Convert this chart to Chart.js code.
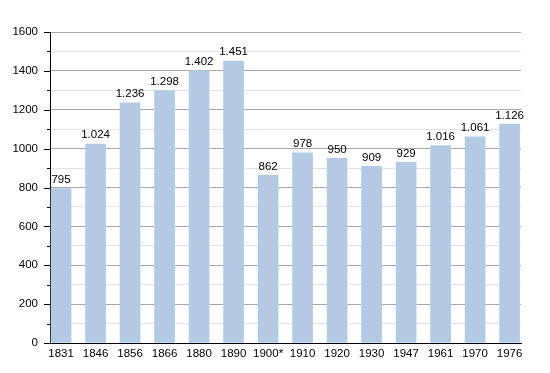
<!DOCTYPE html>
<html>
<head>
<meta charset="utf-8">
<script src="https://cdn.jsdelivr.net/npm/chart.js@4/dist/chart.umd.min.js"></script>
<style>
  html, body { margin: 0; padding: 0; background: #fff; }
  #wrap { width: 550px; height: 373px; }
</style>
</head>
<body>
<div id="wrap"><canvas id="chart"></canvas></div>
<script>
// années et population
const years = ['1831', '1846', '1856', '1866', '1880', '1890', '1900*', '1910', '1920', '1930', '1947', '1961', '1970', '1976'];
const population = [795, 1024, 1236, 1298, 1402, 1451, 862, 978, 950, 909, 929, 1016, 1061, 1126];
const yTicks = [0, 200, 400, 600, 800, 1000, 1200, 1400, 1600];

const FONT = 'Liberation Sans, Arial, Helvetica, sans-serif';

function fmt(v) {
    if (v < 1000) return String(v);
    return Math.floor(v / 1000) + '.' + String(v % 1000).padStart(3, '0');
}

// petits traits sur l'axe Y + valeurs au-dessus des barres
const extras = {
    id: 'extras',
    afterDraw(chart) {
        const ctx = chart.ctx;
        const y = chart.scales.y;
        const left = chart.chartArea.left;
        ctx.save();
        ctx.strokeStyle = '#000';
        ctx.lineWidth = 1;
        for (let v = 0; v <= 1600; v += 100) {
            const py = Math.round(y.getPixelForValue(v)) + 0.5;
            const len = yTicks.includes(v) ? 6 : 3;
            ctx.beginPath();
            ctx.moveTo(left - len, py);
            ctx.lineTo(left, py);
            ctx.stroke();
        }
        ctx.fillStyle = '#000';
        ctx.font = '11.5px ' + FONT;
        ctx.textAlign = 'center';
        ctx.textBaseline = 'bottom';
        const meta = chart.getDatasetMeta(0);
        meta.data.forEach((bar, i) => {
            ctx.fillText(fmt(population[i]), bar.x, bar.y - 3);
        });
        ctx.restore();
    }
};

const ctx = document.getElementById('chart').getContext('2d');
new Chart(ctx, {
    type: 'bar',
    data: {
        datasets: [{
            data: population.map((v, i) => ({ x: i, y: v })),
            backgroundColor: '#b2cae4',
            borderWidth: 0,
            barThickness: 20
        }]
    },
    options: {
        responsive: true,
        maintainAspectRatio: false,
        animation: false,
        layout: { padding: { left: 0, top: 32, right: 29, bottom: 0 } },
        plugins: { legend: { display: false }, tooltip: { enabled: false } },
        scales: {
            x: {
                type: 'linear',
                offset: false,
                min: -0.32,
                max: 13.33,
                afterFit: (s) => { s.height = 30; },
                afterBuildTicks: (s) => { s.ticks = years.map((_, i) => ({ value: i })); },
                grid: { display: false, drawTicks: false, offset: false },
                border: { display: true, color: '#000', width: 1 },
                ticks: {
                    autoSkip: false,
                    maxRotation: 0,
                    padding: 4,
                    color: '#000',
                    font: { family: FONT, size: 11.5 },
                    callback: (v) => years[v] ?? ''
                }
            },
            y: {
                min: 0,
                max: 1600,
                afterFit: (s) => { s.width = 50; },
                afterBuildTicks: (s) => {
                    const t = [];
                    for (let v = 0; v <= 1600; v += 100) t.push({ value: v });
                    s.ticks = t;
                },
                grid: {
                    drawTicks: false,
                    color: (c) => (c.tick && yTicks.includes(c.tick.value)) ? '#a8a8a8' : '#e2e2e2'
                },
                border: { display: true, color: '#000', width: 1 },
                ticks: {
                    padding: 12,
                    color: '#000',
                    font: { family: FONT, size: 11.5 },
                    callback: (v) => yTicks.includes(v) ? String(v) : ''
                }
            }
        }
    },
    plugins: [extras]
});
</script>
</body>
</html>
